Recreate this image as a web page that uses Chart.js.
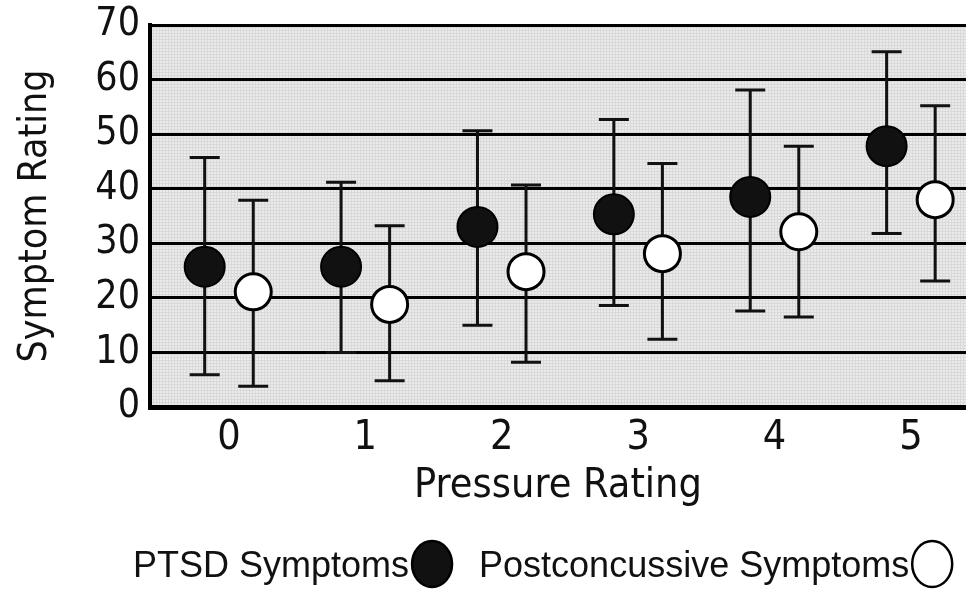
<!DOCTYPE html>
<html>
<head>
<meta charset="utf-8">
<script src="https://cdn.jsdelivr.net/npm/chart.js@4.4.0/dist/chart.umd.min.js"></script>
<style>
  html, body { margin: 0; padding: 0; overflow: hidden; background: #fff; }
  #wrap { width: 966px; height: 591px; position: relative; overflow: hidden; }
  canvas { display: block; }
</style>
</head>
<body>
<div id="wrap"><canvas id="symptomChart"></canvas></div>
<script>
// Pressure rating categories (x axis)
const pressureLabels = ["0", "1", "2", "3", "4", "5"];

// PTSD symptoms: mean with upper / lower error bar ends
const ptsdMean = [25.7, 25.7, 33.0, 35.3, 38.5, 47.8];
const ptsdHigh = [45.7, 41.2, 50.6, 52.7, 58.1, 65.1];
const ptsdLow  = [5.9, 10.0, 15.0, 18.6, 17.6, 31.8];

// Postconcussive symptoms: mean with upper / lower error bar ends
const pcsMean = [21.1, 18.8, 24.8, 28.1, 32.1, 38.0];
const pcsHigh = [37.9, 33.2, 40.7, 44.6, 47.8, 55.2];
const pcsLow  = [3.8, 4.8, 8.2, 12.4, 16.5, 23.1];

const yTicks = [0, 10, 20, 30, 40, 50, 60, 70];

const axisFont = '"DejaVu Sans Condensed", "DejaVu Sans", sans-serif';
const legendFont = '"Liberation Sans", Arial, sans-serif';
const shift = 0.178; // side-by-side offset of the two groups

function toPoints(means, dx) {
    return means.map((m, i) => ({ x: i + dx, y: m }));
}

// light grey hatched fill for the plot area
function makePattern(ctx) {
    const c = document.createElement("canvas");
    c.width = 3;
    c.height = 3;
    const p = c.getContext("2d");
    p.fillStyle = "#ebebeb";
    p.fillRect(0, 0, 3, 3);
    p.fillStyle = "#d9d9d9";
    p.fillRect(0, 0, 3, 1);
    p.fillRect(0, 0, 1, 3);
    return ctx.createPattern(c, "repeat");
}

// keep the plot box where the figure has it (no label overflow padding)
function noPadding(scale) {
    scale.paddingTop = 0;
    scale.paddingBottom = 0;
    scale.paddingLeft = 0;
    scale.paddingRight = 0;
}

const plotBackground = {
    id: "plotBackground",
    beforeDraw(chart) {
        const { ctx, chartArea } = chart;
        ctx.save();
        ctx.fillStyle = makePattern(ctx);
        ctx.fillRect(chartArea.left, chartArea.top,
            chartArea.right - chartArea.left, chartArea.bottom - chartArea.top);
        ctx.restore();
    }
};

const errorBars = {
    id: "errorBars",
    beforeDatasetsDraw(chart) {
        const { ctx, scales } = chart;
        const groups = [
            { lo: ptsdLow, hi: ptsdHigh, dx: -shift },
            { lo: pcsLow, hi: pcsHigh, dx: shift }
        ];
        ctx.save();
        ctx.strokeStyle = "#111";
        ctx.lineWidth = 3;
        groups.forEach(g => {
            g.lo.forEach((lo, i) => {
                const x = scales.x.getPixelForValue(i + g.dx);
                const yLo = scales.y.getPixelForValue(lo);
                const yHi = scales.y.getPixelForValue(g.hi[i]);
                ctx.beginPath();
                ctx.moveTo(x, yLo);
                ctx.lineTo(x, yHi);
                ctx.moveTo(x - 15, yLo);
                ctx.lineTo(x + 15, yLo);
                ctx.moveTo(x - 15, yHi);
                ctx.lineTo(x + 15, yHi);
                ctx.stroke();
            });
        });
        ctx.restore();
    }
};

// legend with the marker after the text, as in the original figure
const markerLegend = {
    id: "markerLegend",
    afterDraw(chart) {
        const ctx = chart.ctx;
        const items = [
            { text: "PTSD Symptoms", fill: "#111" },
            { text: "Postconcussive Symptoms", fill: "#fff" }
        ];
        let x = 133;
        const baseY = 577;
        ctx.save();
        ctx.font = "36px " + legendFont;
        ctx.textBaseline = "alphabetic";
        items.forEach(item => {
            ctx.fillStyle = "#111";
            ctx.fillText(item.text, x, baseY);
            const cx = x + ctx.measureText(item.text).width + 23;
            ctx.beginPath();
            ctx.ellipse(cx, 564, 20, 23, 0, 0, Math.PI * 2);
            ctx.fillStyle = item.fill;
            ctx.fill();
            ctx.lineWidth = 2.5;
            ctx.strokeStyle = "#000";
            ctx.stroke();
            x = cx + 47;
        });
        ctx.restore();
    }
};

const config = {
    type: "scatter",
    data: {
        datasets: [
            {
                label: "PTSD Symptoms",
                data: toPoints(ptsdMean, -shift),
                pointRadius: 20,
                pointHoverRadius: 20,
                backgroundColor: "#111",
                borderColor: "#000",
                borderWidth: 2
            },
            {
                label: "Postconcussive Symptoms",
                data: toPoints(pcsMean, shift),
                pointRadius: 18,
                pointHoverRadius: 18,
                backgroundColor: "#fff",
                borderColor: "#000",
                borderWidth: 3
            }
        ]
    },
    options: {
        responsive: true,
        maintainAspectRatio: false,
        animation: false,
        layout: {
            autoPadding: false,
            padding: { top: 25, right: 0, left: 0, bottom: 0 }
        },
        plugins: {
            legend: { display: false },
            tooltip: { enabled: false }
        },
        scales: {
            x: {
                type: "linear",
                min: -0.579,
                max: 5.404,
                afterBuildTicks: scale => {
                    scale.ticks = pressureLabels.map((l, i) => ({ value: i }));
                },
                afterFit: scale => {
                    scale.height = 184;
                    noPadding(scale);
                },
                grid: { display: false, drawTicks: false },
                border: { display: true, color: "#000", width: 5 },
                ticks: {
                    color: "#111",
                    padding: 7,
                    font: { family: axisFont, size: 41 },
                    callback: v => pressureLabels[v]
                },
                title: {
                    display: true,
                    text: "Pressure Rating",
                    color: "#111",
                    font: { family: axisFont, size: 41 },
                    padding: { top: 0, bottom: 80 }
                }
            },
            y: {
                min: 0,
                max: 70,
                afterBuildTicks: scale => {
                    scale.ticks = yTicks.map(v => ({ value: v }));
                },
                afterFit: scale => {
                    scale.width = 150;
                    noPadding(scale);
                },
                grid: { color: "#000", lineWidth: 3, drawTicks: false },
                border: { display: true, color: "#000", width: 4 },
                ticks: {
                    color: "#111",
                    padding: 10,
                    font: { family: axisFont, size: 39 }
                },
                title: {
                    display: true,
                    text: "Symptom Rating",
                    color: "#111",
                    font: { family: axisFont, size: 39 },
                    padding: { top: 12, bottom: 0 }
                }
            }
        }
    },
    plugins: [plotBackground, errorBars, markerLegend]
};

const symptomChart = new Chart(document.getElementById("symptomChart"), config);
</script>
</body>
</html>
